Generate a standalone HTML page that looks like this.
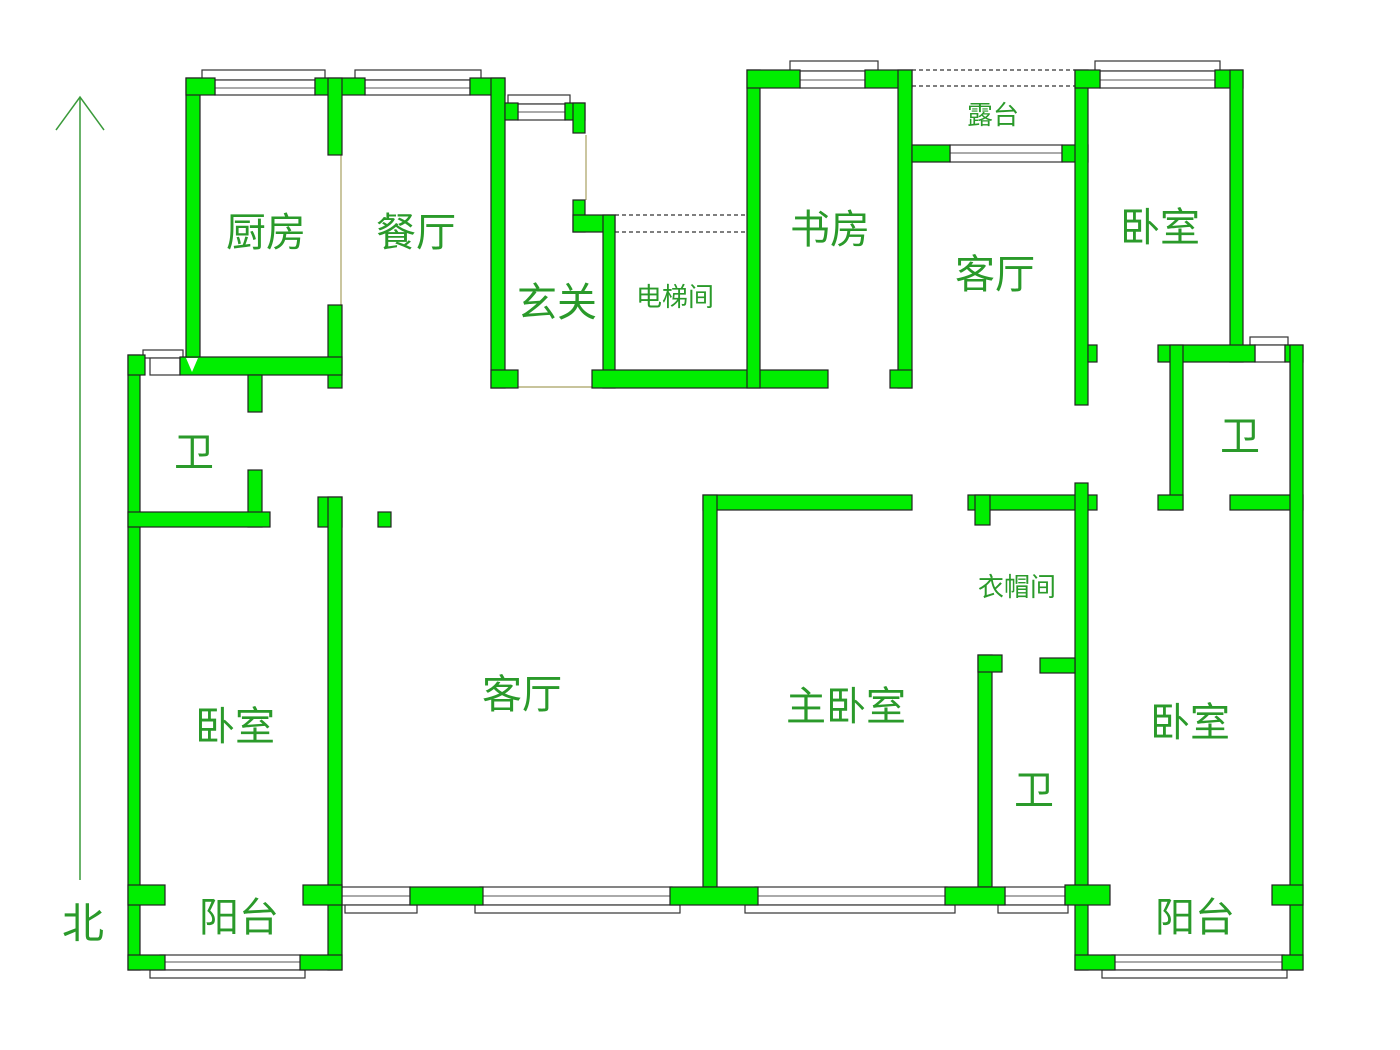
<!DOCTYPE html>
<html><head><meta charset="utf-8"><style>
body{margin:0;background:#fff;width:1400px;height:1050px;overflow:hidden}
svg{display:block}
.w{fill:#00ee00;stroke:#222;stroke-width:1.2}
.win{fill:#fff;stroke:#333;stroke-width:1.2}
text{font-family:"Liberation Sans","Noto Sans CJK SC",sans-serif;fill:#2a9a2a}
</style></head><body>
<svg width="1400" height="1050" viewBox="0 0 1400 1050">
<line x1="80" y1="97" x2="80" y2="880" stroke="#3a9a3a" stroke-width="1.5"/>
<polyline points="56,130 80,97 104,130" fill="none" stroke="#3a9a3a" stroke-width="1.5"/>
<text x="62" y="938" font-size="42">北</text>

<g class="win">
<rect x="202" y="70" width="123" height="10"/><rect x="215" y="80" width="100" height="15"/>
<rect x="355" y="70" width="126" height="10"/><rect x="365" y="80" width="105" height="15"/>
<rect x="508" y="95" width="62" height="9"/><rect x="518" y="104" width="47" height="16"/>
<rect x="790" y="61" width="88" height="10"/><rect x="800" y="71" width="65" height="17"/>
<rect x="1095" y="61" width="125" height="10"/><rect x="1100" y="71" width="115" height="17"/>
<rect x="950" y="145" width="112" height="17"/>
<rect x="143" y="350" width="40" height="8"/><rect x="150" y="358" width="30" height="17"/>
<rect x="1250" y="337" width="38" height="8"/><rect x="1255" y="345" width="30" height="17"/>
<rect x="340" y="887" width="70" height="18"/><rect x="345" y="905" width="72" height="8"/>
<rect x="480" y="887" width="192" height="18"/><rect x="475" y="905" width="205" height="8"/>
<rect x="755" y="887" width="192" height="18"/><rect x="745" y="905" width="210" height="8"/>
<rect x="1005" y="887" width="60" height="18"/><rect x="998" y="905" width="70" height="8"/>
<rect x="160" y="955" width="142" height="15"/><rect x="150" y="970" width="155" height="8"/>
<rect x="1112" y="955" width="172" height="15"/><rect x="1102" y="970" width="185" height="8"/>
</g>
<g stroke="#555" stroke-width="1">
<line x1="215" y1="88" x2="315" y2="88"/><line x1="365" y1="88" x2="470" y2="88"/>
<line x1="518" y1="112" x2="565" y2="112"/><line x1="800" y1="80" x2="865" y2="80"/>
<line x1="1100" y1="80" x2="1215" y2="80"/><line x1="950" y1="153" x2="1062" y2="153"/>
<line x1="340" y1="896" x2="410" y2="896"/><line x1="480" y1="896" x2="672" y2="896"/>
<line x1="755" y1="896" x2="947" y2="896"/><line x1="1005" y1="896" x2="1065" y2="896"/>
<line x1="160" y1="962" x2="302" y2="962"/><line x1="1112" y1="962" x2="1284" y2="962"/>
</g>
<g stroke="#333" stroke-dasharray="4,3" stroke-width="1.3">
<line x1="615" y1="215" x2="747" y2="215"/><line x1="615" y1="232" x2="747" y2="232"/>
<line x1="912" y1="70" x2="1075" y2="70"/><line x1="912" y1="86" x2="1075" y2="86"/>
</g>
<g stroke="#a8a060" stroke-width="1.2">
<line x1="341" y1="155" x2="341" y2="305"/><line x1="586" y1="135" x2="586" y2="200"/>
<line x1="518" y1="387" x2="592" y2="387"/>
</g>

<g class="w">
<rect x="186" y="78" width="14" height="282"/>
<rect x="186" y="78" width="29" height="17"/>
<rect x="315" y="78" width="50" height="17"/>
<rect x="328" y="78" width="14" height="77"/>
<rect x="328" y="305" width="14" height="83"/>
<rect x="470" y="78" width="35" height="17"/>
<rect x="491" y="78" width="14" height="310"/>
<rect x="505" y="103" width="13" height="17"/>
<rect x="565" y="103" width="20" height="17"/><rect x="573" y="103" width="12" height="30"/>
<rect x="573" y="200" width="12" height="32"/>
<rect x="573" y="215" width="42" height="17"/>
<rect x="603" y="215" width="12" height="173"/>
<rect x="491" y="370" width="27" height="18"/>
<rect x="592" y="370" width="236" height="18"/>
<rect x="747" y="70" width="13" height="318"/>
<rect x="747" y="70" width="53" height="18"/>
<rect x="865" y="70" width="47" height="18"/>
<rect x="898" y="70" width="14" height="318"/>
<rect x="890" y="370" width="22" height="18"/>
<rect x="912" y="145" width="38" height="17"/>
<rect x="1062" y="145" width="26" height="17"/>
<rect x="1075" y="70" width="13" height="335"/>
<rect x="1088" y="345" width="9" height="17"/>
<rect x="1075" y="70" width="25" height="18"/>
<rect x="1215" y="70" width="28" height="18"/>
<rect x="1230" y="70" width="13" height="292"/>
<rect x="1158" y="345" width="97" height="17"/>
<rect x="1285" y="345" width="18" height="17"/>
<rect x="1170" y="345" width="13" height="165"/>
<rect x="1158" y="495" width="25" height="15"/>
<rect x="1230" y="495" width="73" height="15"/>
<rect x="1290" y="345" width="13" height="625"/>
<rect x="703" y="495" width="209" height="15"/>
<rect x="968" y="495" width="129" height="15"/>
<rect x="975" y="495" width="15" height="30"/>
<rect x="1075" y="483" width="13" height="487"/>
<rect x="1040" y="658" width="35" height="15"/>
<rect x="978" y="655" width="14" height="232"/>
<rect x="978" y="655" width="24" height="17"/>
<rect x="703" y="495" width="14" height="392"/>
<rect x="128" y="355" width="12" height="615"/>
<rect x="128" y="355" width="17" height="20"/>
<rect x="180" y="357" width="162" height="18"/>
<rect x="248" y="375" width="14" height="37"/>
<rect x="248" y="470" width="14" height="57"/>
<rect x="128" y="512" width="142" height="15"/>
<rect x="318" y="497" width="24" height="30"/>
<rect x="328" y="497" width="14" height="473"/>
<rect x="378" y="512" width="13" height="15"/>
<rect x="303" y="885" width="39" height="20"/>
<rect x="128" y="885" width="37" height="20"/>
<rect x="410" y="887" width="73" height="18"/>
<rect x="670" y="887" width="88" height="18"/>
<rect x="945" y="887" width="60" height="18"/>
<rect x="1065" y="885" width="45" height="20"/>
<rect x="1272" y="885" width="31" height="20"/>
<rect x="128" y="955" width="37" height="15"/>
<rect x="300" y="955" width="42" height="15"/>
<rect x="1075" y="955" width="40" height="15"/>
<rect x="1282" y="955" width="21" height="15"/>
</g>
<polygon points="186,358 198,358 192,372" fill="#fff"/>

<g font-size="40">
<text x="226" y="246">厨房</text>
<text x="376" y="246">餐厅</text>
<text x="517" y="316">玄关</text>
<text x="790" y="243">书房</text>
<text x="955" y="288">客厅</text>
<text x="1120" y="241">卧室</text>
<text x="174" y="466">卫</text>
<text x="1220" y="450">卫</text>
<text x="482" y="708">客厅</text>
<text x="786" y="720">主卧室</text>
<text x="195" y="740">卧室</text>
<text x="1150" y="736">卧室</text>
<text x="1014" y="804">卫</text>
<text x="199" y="931">阳台</text>
<text x="1155" y="931">阳台</text>
</g>
<text x="636" y="306" font-size="26">电梯间</text>
<text x="967" y="124" font-size="26">露台</text>
<text x="978" y="596" font-size="26">衣帽间</text>
</svg>
</body></html>
